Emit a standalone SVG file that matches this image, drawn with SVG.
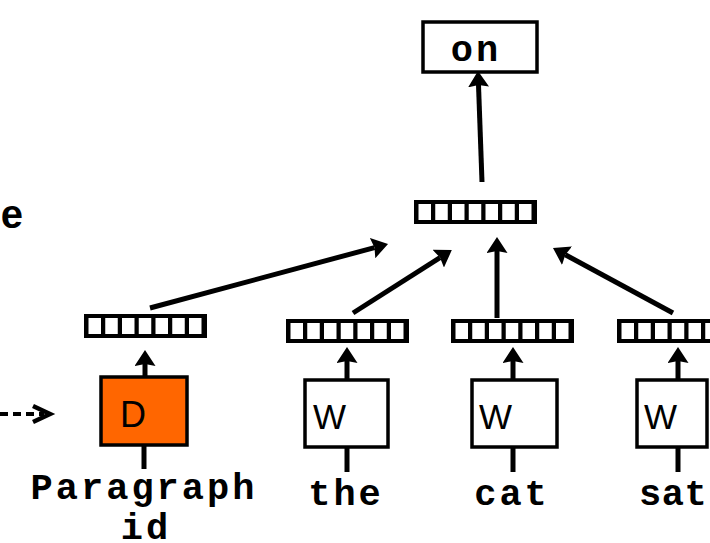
<svg xmlns="http://www.w3.org/2000/svg" width="710" height="543" viewBox="0 0 710 543">
<style>
.box{fill:#fff;stroke:#000;stroke-width:3.5}
.dbox{fill:#ff6600;stroke:#000;stroke-width:3.5}
.bar{fill:#000}
.cell{fill:#fff}
.mono{font-family:"Liberation Mono","Courier New",monospace;font-weight:bold;font-size:37px;fill:#000}
.sans{font-family:"Liberation Sans",Arial,sans-serif;fill:#000}
.arr{stroke:#000;stroke-width:5;fill:none;marker-end:url(#ah)}
.stem{stroke:#000;stroke-width:5;fill:none}
</style>
<defs>
<marker id="ah" markerUnits="userSpaceOnUse" viewBox="0 0 16 21" refX="2" refY="10.5" markerWidth="16" markerHeight="21" orient="auto">
<path d="M0,0 L16,10.5 L0,21 L2,10.5 z" fill="#000"/>
</marker>
<g id="vec">
<rect class="bar" x="0" y="0" width="123" height="24"/>
<rect class="cell" x="4.5" y="4" width="12.5" height="16"/>
<rect class="cell" x="21.25" y="4" width="12.5" height="16"/>
<rect class="cell" x="38" y="4" width="12.5" height="16"/>
<rect class="cell" x="54.75" y="4" width="12.5" height="16"/>
<rect class="cell" x="71.5" y="4" width="12.5" height="16"/>
<rect class="cell" x="88.25" y="4" width="12.5" height="16"/>
<rect class="cell" x="105" y="4" width="12.5" height="16"/>
</g>
</defs>
<rect width="710" height="543" fill="#fff"/>

<g id="connectors">
<line class="arr" x1="482" y1="182" x2="478.5" y2="85"/>
<line class="arr" x1="150" y1="308" x2="374.5" y2="247.6"/>
<line class="arr" x1="353" y1="313" x2="440" y2="257.6"/>
<line class="arr" x1="497" y1="318" x2="497" y2="251"/>
<line class="arr" x1="673" y1="313" x2="565.3" y2="254.7"/>
<line class="arr" x1="145" y1="377" x2="145" y2="364"/>
<line class="arr" x1="347" y1="380" x2="347" y2="361"/>
<line class="arr" x1="513" y1="380" x2="513" y2="361"/>
<line class="arr" x1="678" y1="380" x2="678" y2="361"/>
<line class="stem" x1="144" y1="445" x2="144" y2="469"/>
<line class="stem" x1="347" y1="447" x2="347" y2="472"/>
<line class="stem" x1="513" y1="447" x2="513" y2="472"/>
<line class="stem" x1="678" y1="447" x2="678" y2="472"/>
<line x1="0" y1="414" x2="44" y2="414" stroke="#000" stroke-width="4" stroke-dasharray="8 5"/>
<polyline points="33,406 50,414 33,422" fill="none" stroke="#000" stroke-width="4.5"/>
</g>

<g id="node-on">
<rect class="box" x="423" y="22" width="114" height="50"/>
<text class="mono" x="476" y="61" text-anchor="middle" letter-spacing="3">on</text>
</g>
<g id="node-avg">
<use href="#vec" x="414" y="200"/>
</g>
<g id="node-label-e">
<text class="sans" x="23" y="228" font-size="40" font-weight="bold" text-anchor="end">e</text>
</g>
<g id="node-vec-d">
<use href="#vec" x="84" y="314"/>
</g>
<g id="node-vec-the">
<use href="#vec" x="286" y="319"/>
</g>
<g id="node-vec-cat">
<use href="#vec" x="451" y="319"/>
</g>
<g id="node-vec-sat">
<use href="#vec" x="617" y="319"/>
</g>
<g id="node-D">
<rect class="dbox" x="101" y="377" width="86" height="68"/>
<text class="sans" x="120" y="427" font-size="36">D</text>
</g>
<g id="node-W-the">
<rect class="box" x="305" y="380" width="83" height="67"/>
<text class="sans" x="313" y="429" font-size="35">W</text>
</g>
<g id="node-W-cat">
<rect class="box" x="472" y="380" width="85" height="67"/>
<text class="sans" x="479" y="429" font-size="35">W</text>
</g>
<g id="node-W-sat">
<rect class="box" x="637" y="380" width="70" height="67"/>
<text class="sans" x="644" y="429" font-size="35">W</text>
</g>
<g id="labels">
<text class="mono" x="144" y="499" text-anchor="middle" letter-spacing="3">Paragraph</text>
<text class="mono" x="146" y="539" text-anchor="middle" letter-spacing="3">id</text>
<text class="mono" x="346" y="505" text-anchor="middle" letter-spacing="3">the</text>
<text class="mono" x="512" y="505" text-anchor="middle" letter-spacing="3">cat</text>
<text class="mono" x="639" y="505" letter-spacing="0.5">sat</text>
</g>
</svg>
